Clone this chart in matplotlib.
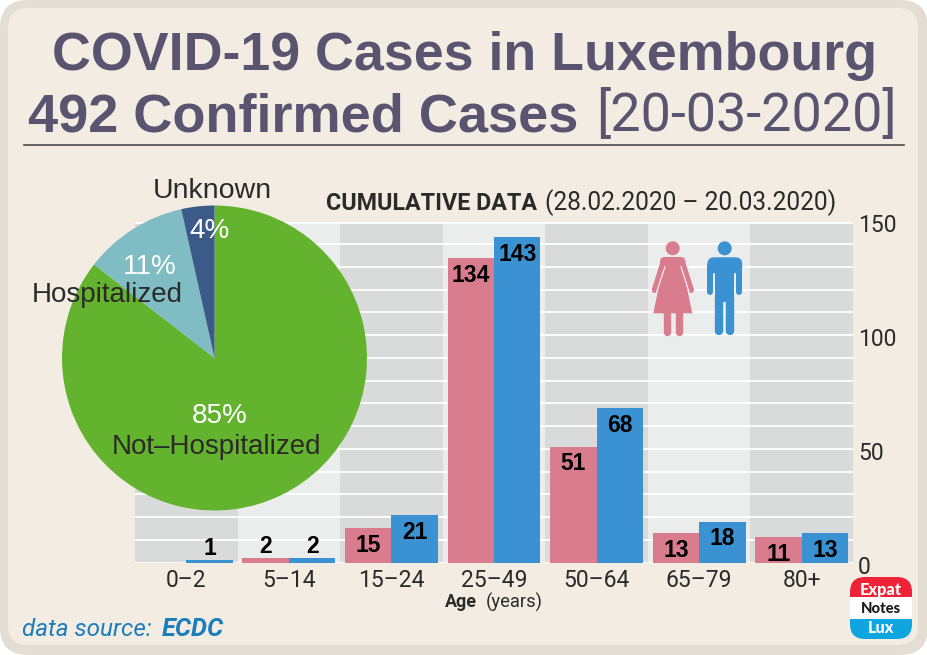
import matplotlib
matplotlib.use("Agg")
import matplotlib.pyplot as plt
from matplotlib.patches import FancyBboxPatch, Circle, Polygon, Rectangle
from matplotlib.transforms import ScaledTranslation
import numpy as np

ages = ["0–2", "5–14", "15–24", "25–49", "50–64", "65–79", "80+"]
female = [0, 2, 15, 134, 51, 13, 11]
male = [1, 2, 21, 143, 68, 18, 13]
yticks = [0, 50, 100, 150]
pie_labels = ["Not–Hospitalized", "Hospitalized", "Unknown"]
pie_values = [85.5, 11, 3.5]
pie_text = ["85%", "11%", "4%"]

PINK, BLUE = "#d97c8e", "#3a92d2"
TXT, TITLE = "#2b2a29", "#5a5470"
NARROW = "Roboto"
SANS = "Liberation Sans"
LIGHT_BAND, DARK_BAND = "#ebeded", "#d9dbda"

W, H = 928, 655
fig = plt.figure(figsize=(W / 100, H / 100), dpi=100, facecolor="white")
renderer = fig.canvas.get_renderer()


def fit(t, width):
    """Scale a text's font size so that it is `width` pixels wide."""
    w = t.get_window_extent(renderer).width
    t.set_fontsize(t.get_fontsize() * width / w)
    return t


bg = fig.add_axes([0, 0, 1, 1])
bg.set_xlim(0, W); bg.set_ylim(H, 0); bg.axis("off")
bg.add_patch(FancyBboxPatch((0, 0), W, H, boxstyle="round,pad=0,rounding_size=28",
                            fc="#e3ddd3", ec="none"))
bg.add_patch(FancyBboxPatch((8, 8), 910, 637, boxstyle="round,pad=0,rounding_size=20",
                            fc="#f3ece3", ec="none"))

fit(bg.text(52, 70, "COVID-19 Cases in Luxembourg", ha="left", va="baseline",
            family=SANS, weight="bold", fontsize=40, color=TITLE), 824)
fit(bg.text(28, 131, "492 Confirmed Cases", ha="left", va="baseline",
            family=SANS, weight="bold", fontsize=40, color=TITLE), 550)
fit(bg.text(596, 131, "[20-03-2020]", ha="left", va="baseline",
            family=NARROW, fontsize=40, color=TITLE), 300)
bg.plot([24, 904], [145, 145], color="#4a4a4a", lw=1.2)

fit(bg.text(326, 203, "CUMULATIVE DATA", ha="left", va="center", family=NARROW,
            weight="bold", fontsize=16, color=TXT), 211)
fit(bg.text(545, 203, "(28.02.2020 – 20.03.2020)", ha="left", va="center", family=NARROW,
            fontsize=16, color=TXT), 292)

# bar chart
x0, x1, ytop, ybot = 135, 853, 221.5, 562.5
ax = fig.add_axes([x0 / W, 1 - ybot / H, (x1 - x0) / W, (ybot - ytop) / H])
ax.set_xlim(-0.5, 6.5); ax.set_ylim(0, 150)
ax.set_facecolor("none")
for i in range(len(ages)):
    ax.axvspan(i - 0.5, i + 0.5, color=DARK_BAND if i % 2 == 0 else LIGHT_BAND, lw=0, zorder=0)
for v in range(0, 151, 10):
    ax.axhline(v, color="white", lw=2 if v in (0, 150) else 1.3, zorder=1)
x = np.arange(len(ages))
bw = 0.453
ax.bar(x - bw / 2, female, bw, color=PINK, zorder=2)
ax.bar(x + bw / 2, male, bw, color=BLUE, zorder=2)
for i in x:
    for off, v in ((-bw / 2, female[i]), (bw / 2, male[i])):
        if v == 0:
            continue
        big = v > 10
        ax.text(i + off, v - 2.6 if big else v, str(v), ha="center",
                va="top" if big else "bottom", family=SANS, weight="bold",
                fontsize=16.5, color="black", zorder=3)
for s in ax.spines.values():
    s.set_visible(False)
ax.set_xticks(x, ages)
ax.tick_params(axis="x", length=0, pad=5)
for l in ax.get_xticklabels():
    l.set(family=NARROW, fontsize=16.5, color=TXT)
ax.yaxis.tick_right()
ax.set_yticks(yticks)
ax.tick_params(axis="y", length=0, pad=3.5)
shift = ScaledTranslation(0, -2 / 100, fig.dpi_scale_trans)
for l in ax.get_yticklabels():
    l.set(family=NARROW, fontsize=16.5, color=TXT)
    l.set_transform(l.get_transform() + shift)

# pie
cx, cy, r = 214.5, 358, 152.5
pa = fig.add_axes([(cx - r) / W, 1 - (cy + r) / H, 2 * r / W, 2 * r / H])
pa.pie(pie_values, startangle=90, counterclock=False, radius=1,
       colors=["#63b32e", "#7fbcc4", "#3c5a87"])
pa.set_xlim(-1, 1); pa.set_ylim(-1, 1)

# overlay texts & pictograms
ov = fig.add_axes([0, 0, 1, 1])
ov.set_xlim(0, W); ov.set_ylim(H, 0); ov.axis("off"); ov.patch.set_alpha(0)
fit(ov.text(461, 602, "Age", ha="center", va="center", family=NARROW, weight="bold",
            fontsize=12, color=TXT), 32)
fit(ov.text(486, 602, "(years)", ha="left", va="center", family=NARROW,
            fontsize=12, color=TXT), 57)
kw = dict(ha="center", va="center", family=SANS)
ov.text(220, 416, pie_text[0], color="white", fontsize=20, **kw)
ov.text(216.5, 447, pie_labels[0], color=TXT, fontsize=20, **kw)
ov.text(150, 267, pie_text[1], color="white", fontsize=20, **kw)
ov.text(107.5, 295, pie_labels[1], color=TXT, fontsize=20, **kw)
ov.text(210, 231, pie_text[2], color="white", fontsize=20, **kw)
ov.text(212.5, 191, pie_labels[2], color=TXT, fontsize=20.5, **kw)

# woman
ov.add_patch(Circle((672.7, 248.3), 7, fc=PINK, ec="none"))
for ax_, bx in ((663.5, 654.7), (682, 691)):
    ov.plot([ax_, bx], [262, 290], color=PINK, lw=4.3, solid_capstyle="round")
ov.add_patch(FancyBboxPatch((660, 257), 25.5, 14, boxstyle="round,pad=0,rounding_size=5",
                            fc=PINK, ec="none"))
ov.add_patch(Polygon([(664, 262), (681.5, 262), (692.3, 313.3), (653.3, 313.3)], fc=PINK, ec="none"))
ov.plot([665, 656.7], [266.7, 291.7], color=LIGHT_BAND, lw=0.9)
ov.plot([681, 689], [266.7, 291.7], color=LIGHT_BAND, lw=0.9)
for lx in (667, 678.7):
    ov.plot([lx, lx], [312, 331.5], color=PINK, lw=5.3, solid_capstyle="round")
# man
ov.add_patch(Circle((724.7, 248.3), 7, fc=BLUE, ec="none"))
ov.add_patch(FancyBboxPatch((707.3, 257.3), 35, 16, boxstyle="round,pad=0,rounding_size=7",
                            fc=BLUE, ec="none"))
for ax_ in (710.3, 739.3):
    ov.plot([ax_, ax_], [266, 291.5], color=BLUE, lw=4.3, solid_capstyle="round")
ov.add_patch(Rectangle((714.9, 262), 19.6, 40, fc=BLUE, ec="none"))
for lx in (719.3, 730.4):
    ov.plot([lx, lx], [298, 331], color=BLUE, lw=6, solid_capstyle="round")

# source
fit(ov.text(22, 629, "data source:", ha="left", va="center", family=NARROW, style="italic",
            fontsize=16, color="#1c7dbd"), 130)
fit(ov.text(162, 629, "ECDC", ha="left", va="center", family=NARROW, style="italic", weight="bold",
            fontsize=16, color="#1c7dbd"), 62)

# logo
clip = FancyBboxPatch((850, 577), 62, 62, boxstyle="round,pad=0,rounding_size=15", fc="white", ec="none")
ov.add_patch(clip)
for yy, hh, c in ((577, 20, "#ee2338"), (619, 20, "#0ea5e0")):
    rr = Rectangle((850, yy), 62, hh, fc=c, ec="none")
    ov.add_patch(rr); rr.set_clip_path(clip)
kw2 = dict(ha="center", va="center", family="Lato", weight=900)
fit(ov.text(881, 590, "Expat", color="white", fontsize=11, **kw2), 42)
fit(ov.text(881, 609, "Notes", color="#1a1a1a", fontsize=11, **kw2), 40)
fit(ov.text(881, 628, "Lux", color="white", fontsize=11, **kw2), 26)

fig.savefig("out.png", dpi=100)
